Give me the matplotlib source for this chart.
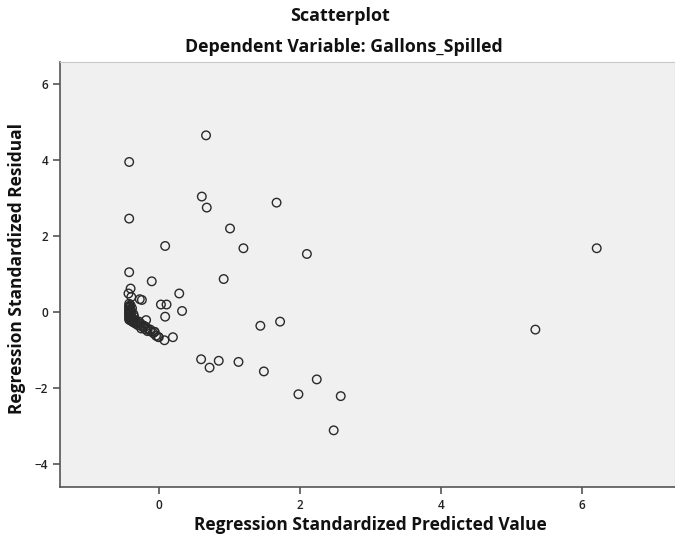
import numpy as np
import matplotlib
matplotlib.use("Agg")
import matplotlib.pyplot as plt

plt.rcParams['font.family'] = ['Open Sans', 'DejaVu Sans']

# standardized predicted values (x) and standardized residuals (y)
outer_x = [0.67, -0.42, 0.61, 0.68, 1.67, -0.42, 1.01, 0.09, 1.20, 2.10,
           6.21, -0.42, 0.92, -0.10, -0.40, -0.43, -0.39, -0.27, -0.24, 0.29,
           0.03, 0.11, 0.33, 0.09, 5.34, 1.44, 1.72, 0.60, 0.85, 0.72,
           1.13, 1.49, 2.24, 1.98, 2.58, 2.48, 0.20, 0.08]
outer_y = [4.65, 3.95, 3.04, 2.75, 2.88, 2.46, 2.20, 1.74, 1.68, 1.53,
           1.68, 1.05, 0.87, 0.81, 0.62, 0.49, 0.40, 0.34, 0.32, 0.49,
           0.20, 0.20, 0.03, -0.12, -0.46, -0.36, -0.25, -1.24, -1.28, -1.46,
           -1.31, -1.56, -1.77, -2.16, -2.21, -3.11, -0.66, -0.74]

# dense clump of cases near (-0.4, 0)
cluster_x = [-0.42, -0.42, -0.42, -0.42, -0.42, -0.42, -0.42, -0.42, -0.42, -0.42, -0.42,
             -0.40, -0.40, -0.40, -0.40, -0.40, -0.41, -0.41, -0.41,
             -0.38, -0.38, -0.38, -0.39, -0.39,
             -0.36, -0.36, -0.36, -0.35,
             -0.33, -0.33, -0.30, -0.30, -0.28, -0.26, -0.26, -0.25,
             -0.22, -0.22, -0.19, -0.19, -0.18, -0.16, -0.16,
             -0.12, -0.12, -0.08, -0.06, -0.06, -0.04, -0.01, 0.0]
cluster_y = [0.22, 0.16, 0.12, 0.08, 0.04, 0.0, -0.04, -0.08, -0.12, -0.16, -0.20,
             0.18, 0.06, -0.06, -0.18, -0.22, 0.14, -0.02, -0.10,
             0.10, -0.14, -0.24, 0.02, -0.18,
             -0.05, -0.20, -0.27, -0.12,
             -0.22, -0.30, -0.28, -0.34, -0.25, -0.30, -0.36, -0.43,
             -0.35, -0.40, -0.45, -0.38, -0.21, -0.43, -0.50,
             -0.50, -0.46, -0.55, -0.52, -0.52, -0.62, -0.65, -0.66]

x = np.array(outer_x + cluster_x)
y = np.array(outer_y + cluster_y)

W, H = 675, 539
fig = plt.figure(figsize=(6.75, 5.39), dpi=100)
ax = fig.add_axes([0.089, 0.0965, 0.911, 0.7885])
ax.set_facecolor('#f0f0f0')

ax.scatter(x, y, s=38, facecolors='none', edgecolors='#2a2a2a', linewidths=1.0, zorder=3)

ax.set_xlim(-1.40, 7.32)
ax.set_ylim(-4.6, 6.58)
ax.set_xticks([0, 2, 4, 6])
ax.set_yticks([-4, -2, 0, 2, 4, 6])

for side in ['top', 'right']:
    ax.spines[side].set_color('#c8c8c8')
    ax.spines[side].set_linewidth(0.8)
for side in ['left', 'bottom']:
    ax.spines[side].set_color('#555555')
    ax.spines[side].set_linewidth(1.2)

ax.tick_params(direction='out', length=5, width=1.2, color='#555555',
               labelsize=8.5, labelcolor='#222222')
for lab in ax.get_xticklabels() + ax.get_yticklabels():
    lab.set_fontweight('semibold')

# labels and titles placed by pixel position
fig.text(370 / W, 1 - 525 / H, 'Regression Standardized Predicted Value',
         ha='center', va='center', fontsize=12.5, fontweight='bold', color='#111111')
fig.text(17 / W, 1 - 268 / H, 'Regression Standardized Residual', rotation=90,
         ha='center', va='center', fontsize=12.5, fontweight='bold', color='#111111')

fig.text(340 / W, 1 - 16 / H, 'Scatterplot', ha='center', va='center',
         fontsize=13, fontweight='bold', color='#111111')
fig.text(344 / W, 1 - 47 / H, 'Dependent Variable: Gallons_Spilled', ha='center', va='center',
         fontsize=12.8, fontweight='bold', color='#111111')

plt.savefig('out.png', dpi=100)
